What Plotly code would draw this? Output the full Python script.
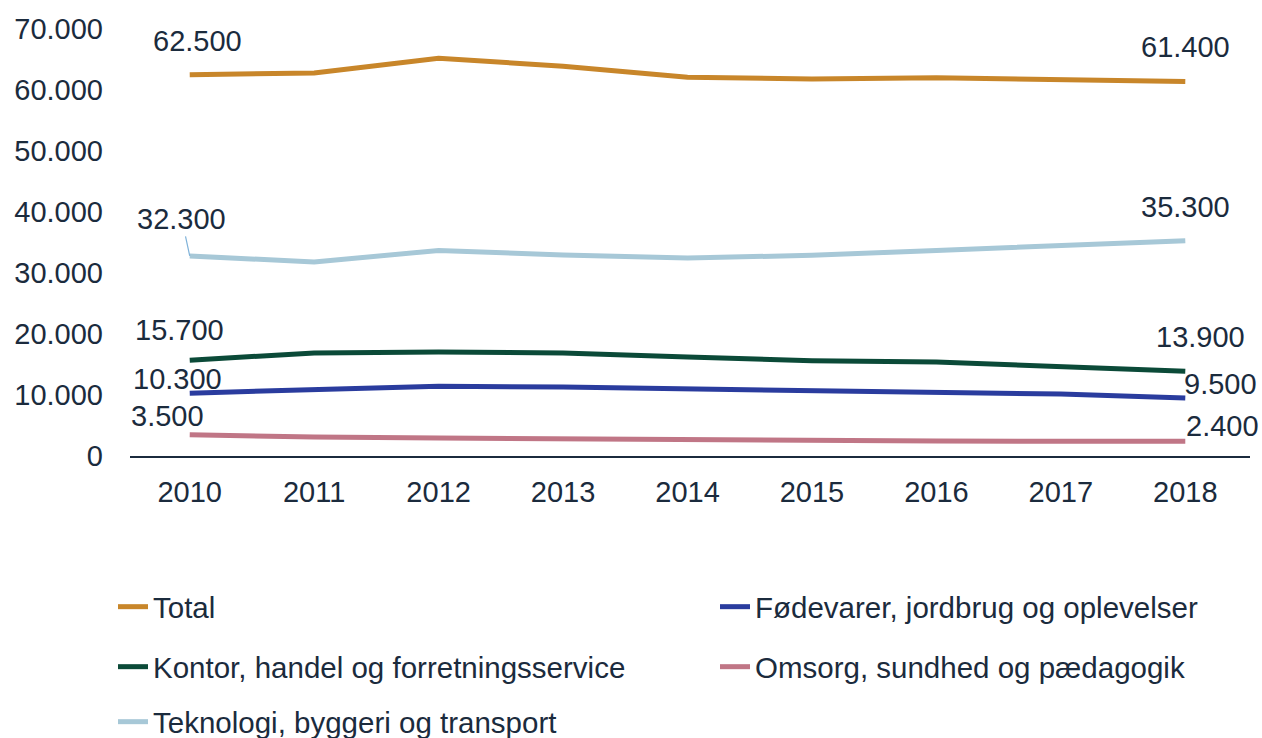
import plotly.graph_objects as go

years = [2010, 2011, 2012, 2013, 2014, 2015, 2016, 2017, 2018]
total = [62500, 62800, 65200, 63900, 62100, 61800, 62000, 61800, 61400]
foedevarer = [10300, 10800, 11450, 11300, 11000, 10850, 10500, 10150, 9500]
kontor = [15700, 16900, 17050, 16900, 16250, 15600, 15400, 14600, 13900]
omsorg = [3500, 3100, 2950, 2800, 2600, 2450, 2450, 2400, 2400]
teknologi = [32800, 31800, 33700, 32950, 32450, 32900, 33700, 34600, 35300]
start_labels = ["62.500", "10.300", "15.700", "3.500", "32.300"]
end_labels = ["61.400", "9.500", "13.900", "2.400", "35.300"]

names = ["Total", "Fødevarer, jordbrug og oplevelser", "Kontor, handel og forretningsservice",
         "Omsorg, sundhed og pædagogik", "Teknologi, byggeri og transport"]
series = [total, foedevarer, kontor, omsorg, teknologi]
colors = ["#C8862A", "#2A3C9E", "#0B4A38", "#C07686", "#A7C8D7"]
legends = ["legend", "legend2", "legend3", "legend4", "legend5"]
# legend anchor positions in pixels (left, vertical centre)
leg_pos = [(113, 607), (715, 607), (113, 667), (715, 667), (113, 722)]

TXT = "#1B2B3D"
FONT = "Liberation Sans, Arial, sans-serif"
FS = 29
W, H = 1262, 738

fig = go.Figure()
for i in range(5):
    fig.add_trace(go.Scatter(
        x=years, y=series[i], name=names[i], mode="lines",
        line=dict(color=colors[i], width=5),
        legend=legends[i], hoverinfo="skip",
    ))

# label offsets (xshift, yshift) in pixels
start_off = [(8, 34), (-12, 14), (-10, 30), (-22, 19), None]
end_off = [(0, 34), (35, 14), (15, 34), (37, 15), (0, 34)]
for i in range(5):
    if start_off[i] is not None:
        fig.add_annotation(x=years[0], y=series[i][0], text=start_labels[i], showarrow=False,
                           xshift=start_off[i][0], yshift=start_off[i][1],
                           font=dict(size=FS, color=TXT, family=FONT))
    else:
        fig.add_annotation(x=years[0], y=series[i][0], text=start_labels[i], showarrow=True,
                           arrowhead=0, arrowwidth=1.2, arrowcolor="#7FB2D9",
                           ax=-8, ay=-37, standoff=0,
                           font=dict(size=FS, color=TXT, family=FONT))
    fig.add_annotation(x=years[-1], y=series[i][-1], text=end_labels[i], showarrow=False,
                       xshift=end_off[i][0], yshift=end_off[i][1],
                       font=dict(size=FS, color=TXT, family=FONT))

leg_layout = {}
for i, key in enumerate(legends):
    px, py = leg_pos[i]
    leg_layout[key] = dict(orientation="h", font=dict(size=29.5, color=TXT, family=FONT),
                           bgcolor="rgba(0,0,0,0)", xref="container", yref="container",
                           x=px / W, y=1 - py / H, xanchor="left", yanchor="middle",
                           itemclick=False, itemdoubleclick=False)

fig.update_layout(
    width=W, height=H,
    margin=dict(l=130, r=12, t=29, b=282, autoexpand=False),
    plot_bgcolor="white", paper_bgcolor="white",
    font=dict(family=FONT, size=FS, color=TXT),
    showlegend=True,
    **leg_layout,
    xaxis=dict(range=[2009.52, 2018.52], tickvals=years, ticktext=[str(y) for y in years],
               showgrid=False, zeroline=False, showline=True, linecolor="#1B2B3D", linewidth=2,
               ticks="", ticklabelstandoff=9, tickfont=dict(size=FS, color=TXT, family=FONT)),
    yaxis=dict(range=[0, 70000], tickvals=[0, 10000, 20000, 30000, 40000, 50000, 60000, 70000],
               ticktext=["0", "10.000", "20.000", "30.000", "40.000", "50.000", "60.000", "70.000"],
               showgrid=False, zeroline=False, showline=False, ticks="",
               ticklabelstandoff=26, tickfont=dict(size=FS, color=TXT, family=FONT)),
)

fig.write_html("out.html", config={"displayModeBar": False},
               post_script="document.body.style.margin='0';")
